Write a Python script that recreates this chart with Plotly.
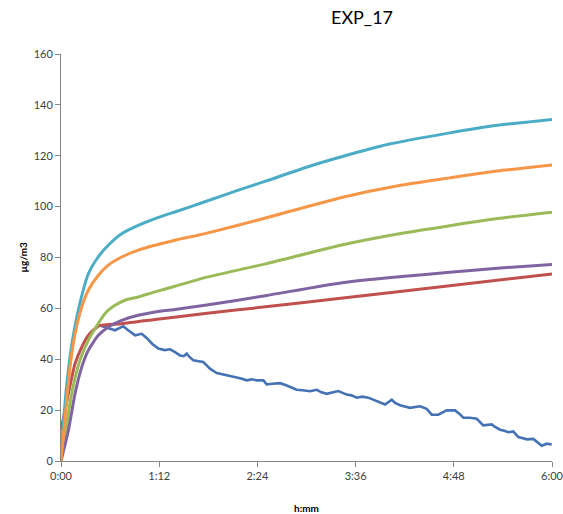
import plotly.graph_objects as go

# time in minutes
t_teal = [0, 4, 8, 13, 20, 27, 35, 45, 57, 69, 84, 106, 130, 150, 180, 205, 240, 285, 320, 360]
v_teal = [2, 29, 46, 60, 73.5, 80, 85, 89.5, 92.7, 95.3, 98, 102, 106.5, 110, 115.5, 119.5, 124.5, 129, 132, 134.3]

t_orange = [0, 3, 6.6, 10.3, 15.2, 20, 27.4, 34.7, 44.5, 56.7, 68.9, 83.6, 105.6, 150, 205, 250, 285, 320, 360]
v_orange = [0, 17.2, 36.9, 50, 60.5, 67.1, 73, 77, 80.2, 82.9, 84.8, 86.8, 89.4, 95.5, 103.5, 108.5, 111.3, 114, 116.4]

t_green = [0, 3, 7.8, 13.9, 20, 24.9, 32.3, 38.4, 46.9, 56.7, 68.9, 83.6, 105.6, 150, 205, 250, 285, 320, 360]
v_green = [0, 10, 26.5, 39.6, 47.4, 52, 58, 60.8, 63.2, 64.5, 66.5, 68.7, 72.1, 77.5, 84.8, 89.5, 92.5, 95.3, 97.8]

t_red = [0, 5.4, 10.3, 15.2, 20, 24.9, 28.6, 44.5, 68.9, 105.6, 150, 205, 285, 360]
v_red = [12, 26.5, 38.3, 44.8, 49.4, 52, 53.3, 54, 55.6, 58, 60.6, 64, 68.9, 73.5]

t_purple = [0, 5.4, 10.3, 15.2, 20, 27.4, 34.7, 44.5, 56.7, 68.9, 83.6, 105.6, 150, 205, 250, 285, 320, 360]
v_purple = [0, 12, 26.5, 36.9, 43.5, 49.4, 52.7, 55.3, 57.3, 58.6, 59.6, 61.2, 65, 70, 72.5, 74.2, 75.8, 77.2]

t_blue = [28.6, 32, 36, 39.6, 42, 45.7, 49, 52, 54.3, 59.2, 63, 67, 71.4, 76, 80, 83.6, 87.3, 90, 92.2, 94,
          97, 101, 104.3, 107, 109.2, 114.2, 118, 121.5, 125, 128.8, 132, 136.2, 140, 143.5, 148.4, 150.8,
          155, 160.6, 165.5, 169, 172.8, 177, 182.6, 187.5, 191, 194.8, 199, 203.3, 209.5, 213, 216.8, 221,
          225.3, 231.5, 237.6, 242.5, 245, 248.6, 252, 255.9, 263.2, 268.1, 271.8, 276.6, 282.8, 288.9, 292,
          295, 299.9, 304.8, 309.6, 315.8, 318, 321.9, 325, 328, 331.6, 335.3, 338, 341.5, 346.3, 349, 352.5,
          356.1, 359.8]
v_blue = [53.3, 52.6, 52.0, 51.4, 52.1, 53.0, 51.5, 50.3, 49.4, 50.0, 48.3, 46.0, 44.2, 43.6, 43.9, 42.8, 41.5, 41.2, 42.2, 41.0,
          39.6, 39.2, 38.9, 37.5, 36.3, 34.6, 34.2, 33.7, 33.4, 32.8, 32.4, 31.7, 32.1, 31.7, 31.7, 30.1,
          30.4, 30.6, 29.7, 29.0, 28.0, 27.8, 27.4, 28.0, 27.0, 26.4, 26.9, 27.5, 26.1, 25.8, 24.9, 25.3,
          24.9, 23.6, 22.2, 24.1, 22.8, 21.9, 21.4, 20.9, 21.5, 20.5, 18.2, 18.2, 19.9, 19.9, 18.6,
          17.0, 17.0, 16.6, 14.0, 14.4, 13.5, 12.3, 11.9, 11.3, 11.6, 9.4, 9.0, 8.5, 8.7, 7.6, 6.0,
          6.8, 6.5]

x_tickvals = [0, 72, 144, 216, 288, 360]
x_ticktext = ["0:00", "1:12", "2:24", "3:36", "4:48", "6:00"]
y_tickvals = [0, 20, 40, 60, 80, 100, 120, 140, 160]

FONT = "Lato, 'Open Sans', sans-serif"

fig = go.Figure()
series = [
    (t_blue, v_blue, "#4472B4", 2.6, 0),
    (t_red, v_red, "#C0504D", 3, 0.6),
    (t_green, v_green, "#9BBB59", 3, 0.6),
    (t_purple, v_purple, "#8064A2", 3, 0.6),
    (t_teal, v_teal, "#4BACC6", 3, 0.6),
    (t_orange, v_orange, "#F79646", 3, 0.6),
]
for tx, vy, col, w, sm in series:
    fig.add_trace(go.Scatter(x=tx, y=vy, mode="lines",
                             line=dict(color=col, width=w, shape="spline" if sm else "linear", smoothing=sm if sm else None),
                             showlegend=False, hoverinfo="skip", cliponaxis=True))

axis_common = dict(showgrid=False, zeroline=False, showline=True, linecolor="#868686", linewidth=1,
                   ticks="outside", ticklen=5, tickcolor="#868686", automargin=False,
                   ticklabeloverflow="allow",
                   tickfont=dict(family=FONT, size=11, color="#404040"))

fig.update_xaxes(range=[0, 360], tickvals=x_tickvals, ticktext=x_ticktext, **axis_common)
fig.update_yaxes(range=[0, 160], tickvals=y_tickvals, **axis_common)

fig.update_layout(
    width=563, height=514,
    margin=dict(l=61, r=11, t=54, b=53, autoexpand=False),
    paper_bgcolor="white", plot_bgcolor="white",
    title=dict(text="EXP_17", x=362 / 563, xref="container", xanchor="center",
               y=1 - 18 / 514, yref="container", yanchor="middle",
               font=dict(family=FONT, size=18, color="#000000")),
    annotations=[
        dict(text="<b>µg/m3</b>", xref="paper", yref="paper", x=-39 / 491, y=0.5, xanchor="center", yanchor="middle",
             textangle=-90, showarrow=False, font=dict(family=FONT, size=10, color="#000000")),
        dict(text="<b>h:mm</b>", xref="paper", yref="paper", x=0.5, y=-47 / 407, xanchor="center", yanchor="middle",
             showarrow=False, font=dict(family=FONT, size=10, color="#000000")),
    ],
)

fig.write_html("out.html", config={"displayModeBar": False},
               post_script="document.body.style.margin='0';document.body.style.overflow='hidden';")
